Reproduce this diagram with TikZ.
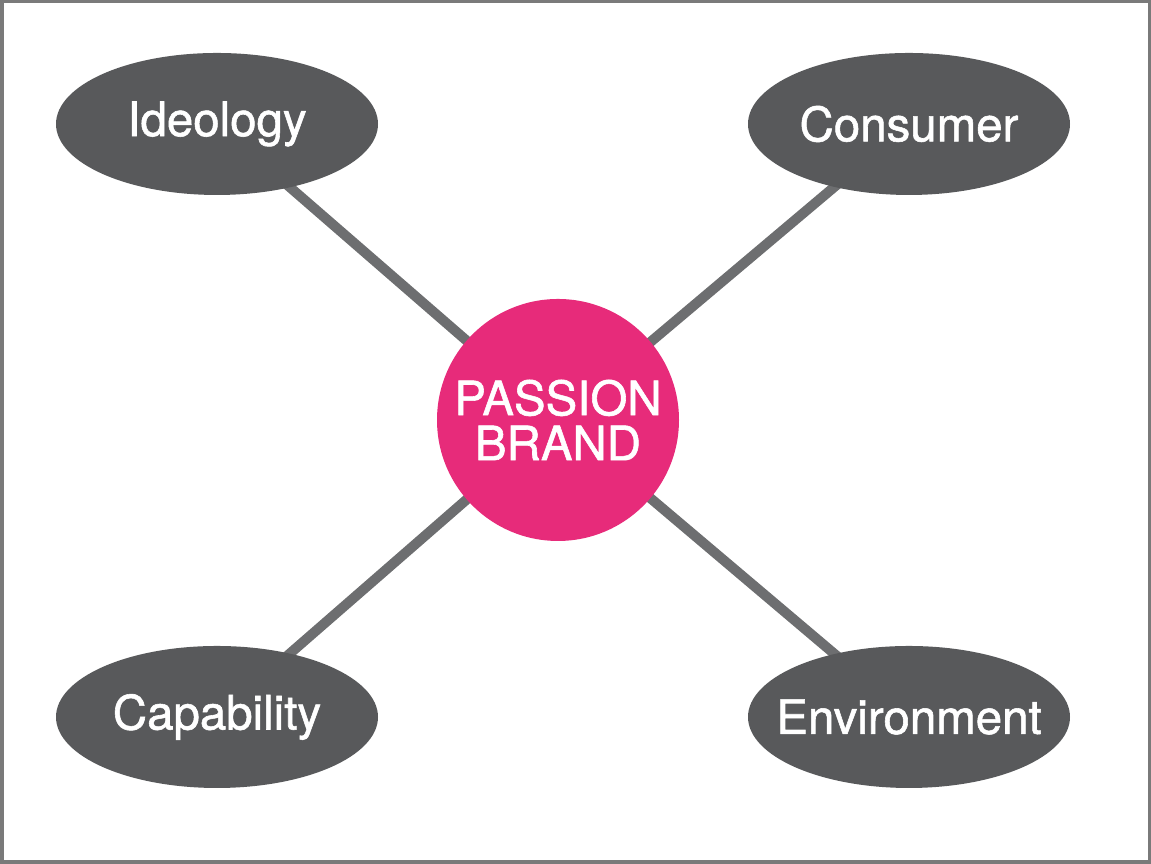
\documentclass[tikz,border=0pt]{standalone}
\usepackage{fontspec}
\setmainfont{TeX Gyre Heros}[RawFeature={embolden=1.2}]
\usetikzlibrary{shapes.geometric,backgrounds}
\definecolor{frame}{HTML}{7A7A7A}
\definecolor{spoke}{HTML}{6D6E70}
\definecolor{pillar}{HTML}{58595B}
\definecolor{passion}{HTML}{E72B7A}
\tikzset{
  pillar/.style={ellipse,fill=pillar,minimum width=3.22cm,minimum height=1.42cm,
    inner xsep=-1cm,inner ysep=0pt,text=white,font=\fontsize{13.5}{14}\selectfont},
  hub/.style={circle,fill=passion,minimum size=2.42cm,inner sep=0pt,text=white,
    align=center,font=\fontsize{13.5}{12.8}\selectfont},
  spoke/.style={draw=spoke,line width=.1cm}}

\begin{document}
\begin{tikzpicture}
\path[use as bounding box] (0,0) rectangle (11.51,8.64);
\draw[frame,line width=.035cm] (.0175,.0175) rectangle (11.4925,8.6225);
\node[hub] (brand) at (5.58,4.44) {PASSION\\BRAND};
\node[pillar] (ideology) at (2.17,7.40) {Ideology};
\node[pillar] (consumer) at (9.09,7.40) {Consumer};
\node[pillar] (capability) at (2.17,1.47) {Capability};
\node[pillar] (environment) at (9.09,1.47) {Environment};
\begin{scope}[on background layer]
\foreach \n in {ideology,consumer,capability,environment}
  \draw[spoke] (\n.center)--(brand.center);
\end{scope}
\end{tikzpicture}
\end{document}
